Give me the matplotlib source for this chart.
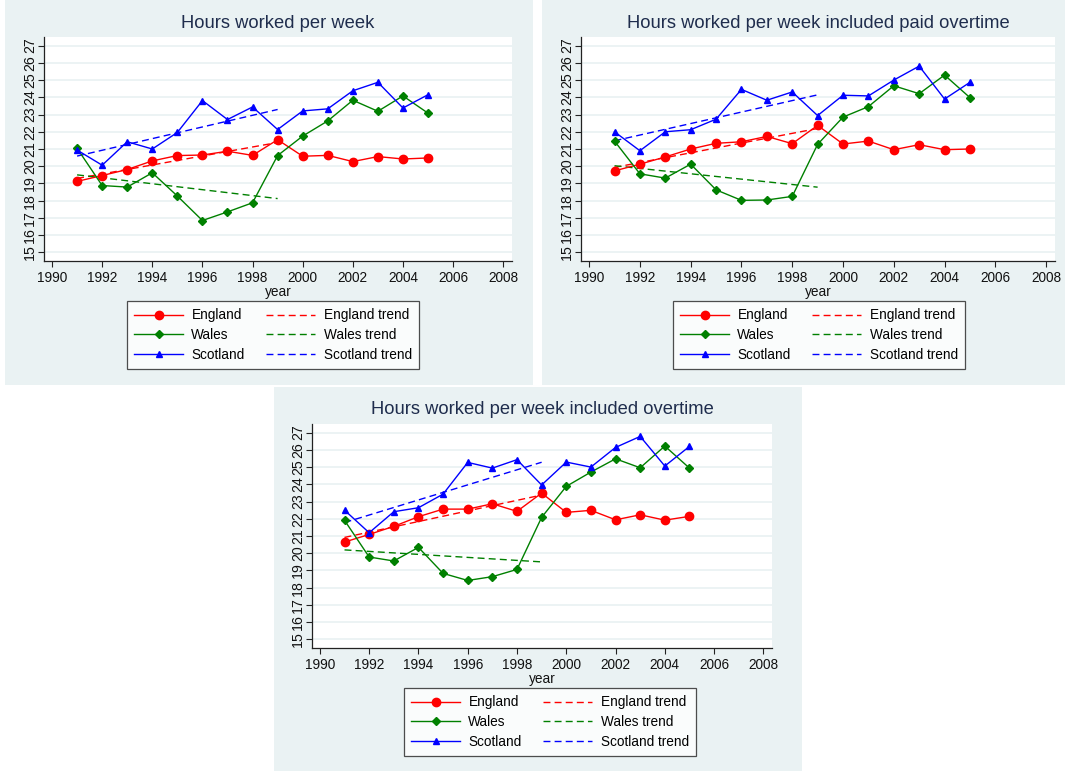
import matplotlib.pyplot as plt
import numpy as np
from matplotlib.patches import Rectangle

plt.rcParams['font.family'] = ['Liberation Sans', 'DejaVu Sans']

# data
years = [1991, 1992, 1993, 1994, 1995, 1996, 1997, 1998, 1999,
         2000, 2001, 2002, 2003, 2004, 2005]
titles = ['Hours worked per week',
          'Hours worked per week included paid overtime',
          'Hours worked per week included overtime']
series_names = ['England', 'Wales', 'Scotland']
xticks = [1990, 1992, 1994, 1996, 1998, 2000, 2002, 2004, 2006, 2008]
yticks = list(range(15, 28))

# panel 1: hours worked per week
england_1 = [19.12, 19.46, 19.81, 20.31, 20.62, 20.65, 20.87, 20.63, 21.54,
             20.58, 20.63, 20.27, 20.56, 20.42, 20.48]
wales_1 = [21.04, 18.88, 18.79, 19.62, 18.27, 16.85, 17.35, 17.88, 20.62,
           21.75, 22.63, 23.83, 23.19, 24.08, 23.08]
scotland_1 = [20.94, 20.06, 21.42, 21.00, 21.96, 23.81, 22.71, 23.44, 22.13,
              23.21, 23.33, 24.38, 24.87, 23.38, 24.15]

# panel 2: included paid overtime
england_2 = [19.73, 20.12, 20.54, 21.00, 21.33, 21.42, 21.73, 21.31, 22.37,
             21.29, 21.46, 20.96, 21.25, 20.96, 21.00]
wales_2 = [21.46, 19.56, 19.31, 20.12, 18.63, 18.02, 18.04, 18.25, 21.27,
           22.85, 23.46, 24.67, 24.21, 25.29, 23.98]
scotland_2 = [22.00, 20.90, 22.00, 22.12, 22.73, 24.46, 23.83, 24.31, 22.94,
              24.12, 24.08, 25.00, 25.81, 23.90, 24.87]

# panel 3: included overtime
england_3 = [20.65, 21.09, 21.56, 22.12, 22.56, 22.56, 22.87, 22.43, 23.49,
             22.37, 22.49, 21.94, 22.23, 21.92, 22.14]
wales_3 = [21.91, 19.78, 19.55, 20.34, 18.83, 18.42, 18.64, 19.06, 22.08,
           23.88, 24.71, 25.48, 24.96, 26.22, 24.94]
scotland_3 = [22.50, 21.19, 22.41, 22.64, 23.43, 25.27, 24.94, 25.43, 23.96,
              25.29, 25.00, 26.14, 26.78, 25.06, 26.20]

trend_end = 1999  # linear trends fitted on 1991-1999

W, H = 1065, 771
BG = '#eaf2f3'
NAVY = '#1f2d4d'
colors = ['#ff0000', '#008000', '#0000ff']
markers = ['o', 'D', '^']
msizes = [6.0, 3.8, 4.8]

fig = plt.figure(figsize=(W / 100, H / 100), dpi=100)
fig.patch.set_facecolor('white')


def fig_box(l, t, r, b):
    return [l / W, 1 - b / H, (r - l) / W, (b - t) / H]


def draw_panel(bg_box, plot_box, title, title_y, series, leg_center):
    x0, y0, w, h = fig_box(*bg_box)
    fig.patches.append(Rectangle((x0, y0), w, h, transform=fig.transFigure,
                                 facecolor=BG, edgecolor='none', zorder=-10))
    ax = fig.add_axes(fig_box(*plot_box))
    ax.set_facecolor('white')
    cx = (plot_box[0] + plot_box[2]) / 2
    fig.text(cx / W, 1 - title_y / H, title, ha='center', va='center',
             fontsize=13.2, color=NAVY)

    yrs = np.array(years)
    mask = yrs <= trend_end
    line_handles, trend_handles = [], []
    for name, vals, c, m, ms in zip(series_names, series, colors, markers, msizes):
        vals = np.array(vals)
        ln, = ax.plot(yrs, vals, color=c, lw=1.0, marker=m, ms=ms,
                      markeredgecolor=c, markerfacecolor=c, label=name, zorder=3)
        coef = np.polyfit(yrs[mask], vals[mask], 1)
        tx = yrs[mask][[0, -1]]
        tr, = ax.plot(tx, np.polyval(coef, tx), color=c, lw=1.0,
                      dashes=(5, 3), label=name + ' trend', zorder=2)
        line_handles.append(ln)
        trend_handles.append(tr)

    ax.set_xlim(1989.68, 2008.35)
    ax.set_ylim(14.5, 27.5)
    ax.set_xticks(xticks)
    ax.set_yticks(yticks)
    ax.yaxis.grid(True, color=BG, lw=1.3, zorder=0)
    ax.set_axisbelow(True)
    for s in ['top', 'right']:
        ax.spines[s].set_visible(False)
    for s in ['left', 'bottom']:
        ax.spines[s].set_color('#222222')
        ax.spines[s].set_linewidth(0.9)
    ax.tick_params(axis='x', labelsize=9.8, length=4, width=0.8,
                   color='#222222', labelcolor='#111111')
    ax.tick_params(axis='y', labelsize=10.2, length=4, width=0.8, pad=1,
                   color='#222222', labelcolor='#111111')
    for lab in ax.get_yticklabels():
        lab.set_rotation(90)
        lab.set_va('center')
    ax.set_xlabel('year', fontsize=9.8, labelpad=0, color='#111111')

    lx, ly = leg_center
    leg = fig.legend(handles=line_handles + trend_handles, ncol=2,
                     loc='center', bbox_to_anchor=(lx / W, 1 - ly / H),
                     fontsize=9.8, frameon=True, fancybox=False,
                     handlelength=3.6, handletextpad=0.6, columnspacing=1.6,
                     labelspacing=0.42, borderpad=0.5)
    leg.get_frame().set_edgecolor('#222222')
    leg.get_frame().set_linewidth(0.9)
    leg.get_frame().set_facecolor('white')
    return ax


draw_panel((5, 0, 533, 385), (44, 37, 512, 261), titles[0], 23,
           [england_1, wales_1, scotland_1], (273, 335))
draw_panel((542, 0, 1065, 385), (581, 37, 1055, 261), titles[1], 23,
           [england_2, wales_2, scotland_2], (819, 335))
draw_panel((274, 387, 802, 771), (312, 424, 772, 648), titles[2], 410,
           [england_3, wales_3, scotland_3], (550, 722))

fig.savefig('out.png', dpi=100)
